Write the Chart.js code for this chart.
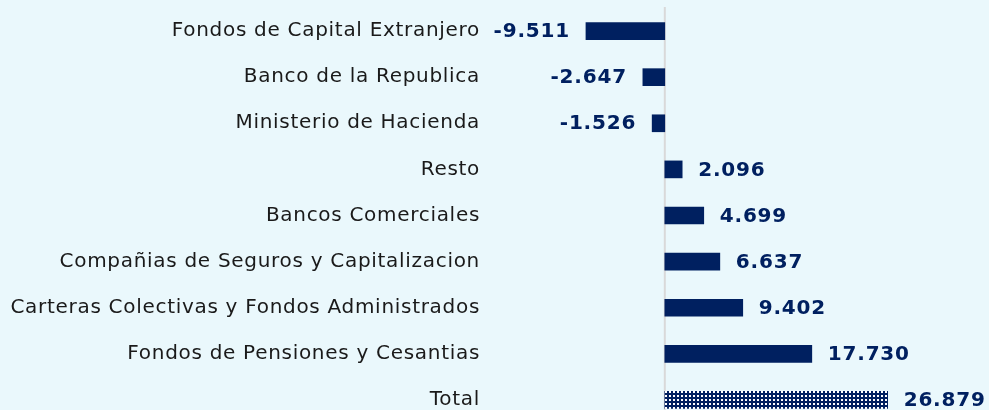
<!DOCTYPE html>
<html>
<head>
<meta charset="utf-8">
<script src="https://cdn.jsdelivr.net/npm/chart.js@4"></script>
<style>
  html, body { margin: 0; padding: 0; background: #eaf8fc; overflow: hidden; }
  #wrap { width: 989px; height: 451px; margin-top: -10px; }
</style>
</head>
<body>
<div id="wrap"><canvas id="chart"></canvas></div>
<script>
const categories = [
  'Fondos de Capital Extranjero',
  'Banco de la Republica',
  'Ministerio de Hacienda',
  'Resto',
  'Bancos Comerciales',
  'Compañias de Seguros y Capitalizacion',
  'Carteras Colectivas y Fondos Administrados',
  'Fondos de Pensiones y Cesantias',
  'Total'
];
const values = [-9.511, -2.647, -1.526, 2.096, 4.699, 6.637, 9.402, 17.730, 26.879];
const valueLabels = ['-9.511', '-2.647', '-1.526', '2.096', '4.699', '6.637', '9.402', '17.730', '26.879'];

const navy = '#002060';

function makePattern() {
  let c = document.createElement('canvas');
  c.width = 4;
  c.height = 4;
  let g = c.getContext('2d');
  g.fillStyle = navy;
  g.fillRect(0, 0, 4, 4);
  g.fillStyle = '#ffffff';
  g.fillRect(1, 1, 2, 2);
  return g.createPattern(c, 'repeat');
}

let barColors = values.map(function (v, i) {
  return i === values.length - 1 ? makePattern() : navy;
});

// wider letter spacing so DejaVu comes closer to the original Verdana look
const spacingPlugin = {
  id: 'spacing',
  beforeDraw(chart) {
    chart.ctx.letterSpacing = '0.7px';
  }
};

// value labels next to each bar
const valueLabelPlugin = {
  id: 'valueLabels',
  afterDatasetsDraw(chart) {
    let ctx = chart.ctx;
    let meta = chart.getDatasetMeta(0);
    ctx.save();
    ctx.letterSpacing = '0.8px';
    ctx.font = 'bold 20px "DejaVu Sans"';
    ctx.fillStyle = navy;
    ctx.textBaseline = 'middle';
    meta.data.forEach(function (bar, i) {
      if (values[i] < 0) {
        ctx.textAlign = 'right';
        ctx.fillText(valueLabels[i], bar.x - 16, bar.y + 1);
      } else {
        ctx.textAlign = 'left';
        ctx.fillText(valueLabels[i], bar.x + 16, bar.y + 1);
      }
    });
    ctx.restore();
  }
};

// vertical line at zero
const zeroLinePlugin = {
  id: 'zeroLine',
  beforeDatasetsDraw(chart) {
    let ctx = chart.ctx;
    let x = chart.scales.x.getPixelForValue(0);
    ctx.save();
    ctx.strokeStyle = '#d9d9d9';
    ctx.lineWidth = 2;
    ctx.beginPath();
    ctx.moveTo(x, 17);
    ctx.lineTo(x, chart.chartArea.bottom);
    ctx.stroke();
    ctx.restore();
  }
};

new Chart(document.getElementById('chart'), {
  type: 'bar',
  data: {
    labels: categories,
    datasets: [{
      data: values,
      backgroundColor: barColors,
      barThickness: 17
    }]
  },
  options: {
    indexAxis: 'y',
    responsive: true,
    maintainAspectRatio: false,
    animation: false,
    plugins: {
      legend: { display: false },
      tooltip: { enabled: false }
    },
    scales: {
      x: {
        min: -20.6,
        max: 39.1,
        display: false
      },
      y: {
        afterFit: function (scale) { scale.width = 494; },
        grid: { display: false },
        border: { display: false },
        ticks: {
          color: '#1a1a1a',
          padding: 6,
          font: { family: '"DejaVu Sans"', size: 20 }
        }
      }
    }
  },
  plugins: [spacingPlugin, zeroLinePlugin, valueLabelPlugin]
});
</script>
</body>
</html>
